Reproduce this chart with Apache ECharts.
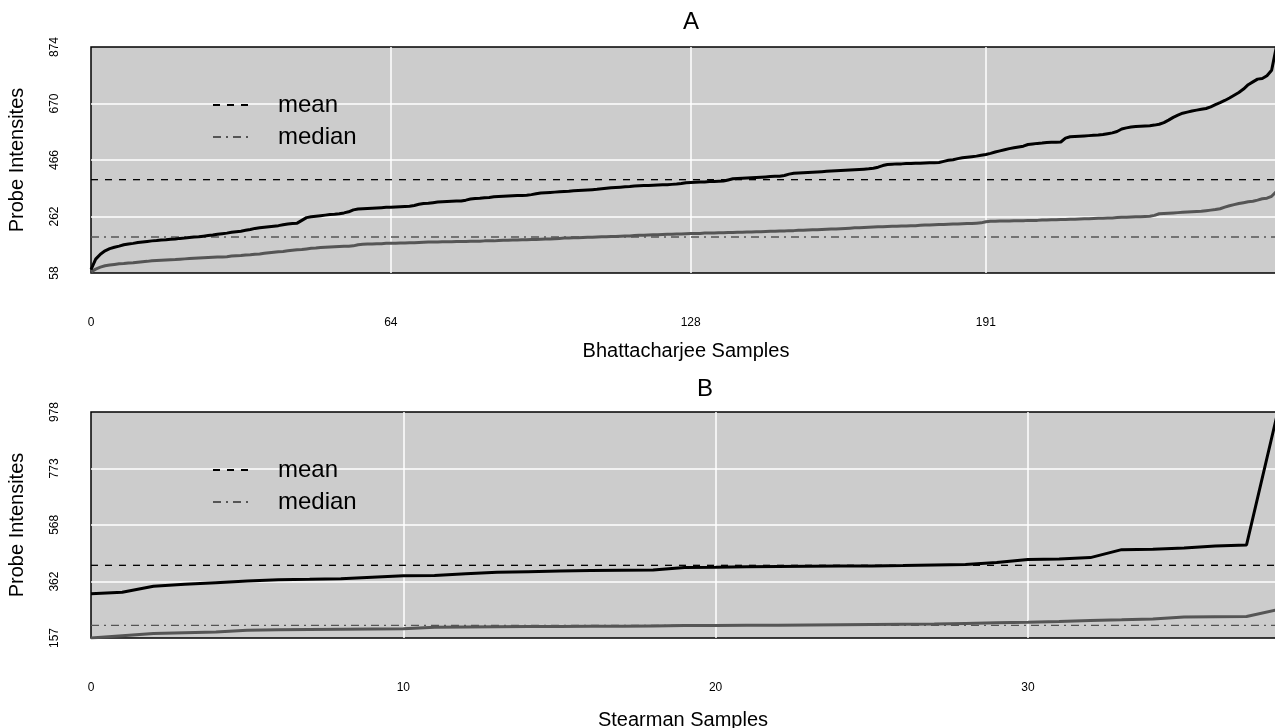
<!DOCTYPE html>
<html>
<head>
<meta charset="utf-8">
<script src="https://cdn.jsdelivr.net/npm/echarts@6/dist/echarts.min.js"></script>
<style>
  html, body { margin: 0; padding: 0; background: #fff; }
  #main { width: 1275px; height: 728px; }
</style>
</head>
<body>
<div id="main"></div>
<script>
// panel A: Bhattacharjee samples, sorted probe intensities
var upperA = [
  70,108,126,138,146,151,155,160,163,165,
  168,170,172,174,175,177,178,180,181,183,
  184,186,188,189,191,193,195,198,200,202,
  205,207,209,212,215,219,221,223,225,227,
  229,232,235,237,238,248,258,261,263,265,
  267,269,270,272,275,279,286,289,290,291,
  292,293,294,295,295,296,297,298,299,302,
  306,309,310,312,314,315,316,317,318,318,
  321,325,327,328,330,331,333,334,335,336,
  337,338,338,339,341,344,347,348,349,350,
  351,352,353,355,356,357,358,359,360,362,
  364,366,367,368,369,370,372,373,374,374,
  375,376,377,377,378,379,381,384,385,386,
  387,387,388,388,389,390,394,398,399,400,
  401,402,403,404,405,406,407,407,410,415,
  418,419,420,421,422,423,424,425,426,427,
  428,429,430,431,432,433,434,436,440,446,
  450,451,452,452,453,453,454,454,455,456,
  456,457,461,465,467,471,474,476,478,480,
  483,486,490,495,499,503,507,510,513,516,
  522,524,526,527,529,530,530,531,545,550,
  551,552,553,554,555,556,558,561,564,569,
  578,582,585,587,588,589,590,592,595,601,
  610,620,628,635,639,643,646,649,652,658,
  666,673,681,690,700,710,722,738,748,758,
  760,770,790,874
];
var lowerA = [
  62,72,79,84,87,89,91,92,94,95,
  97,99,100,102,103,104,105,106,107,108,
  109,110,111,112,113,114,115,116,116,117,
  119,120,121,123,124,126,127,129,131,133,
  135,136,138,140,142,143,145,147,148,150,
  151,152,153,154,155,155,156,160,162,163,
  163,164,164,165,165,165,166,166,167,167,
  168,169,170,170,170,171,171,171,172,172,
  172,173,173,173,174,174,174,175,176,176,
  177,177,178,178,179,179,180,181,181,182,
  183,184,184,185,185,186,187,187,188,189,
  189,190,190,191,192,192,193,194,194,195,
  196,196,197,198,198,199,199,200,201,201,
  201,202,202,202,203,203,204,204,205,205,
  206,206,207,207,208,209,209,210,210,211,
  211,212,212,213,214,214,215,216,217,217,
  218,219,220,221,221,222,223,224,225,225,
  226,227,227,228,228,229,229,230,231,231,
  232,233,233,234,235,235,236,237,237,238,
  239,243,245,245,246,246,246,247,247,247,
  248,248,248,249,249,250,250,251,251,252,
  252,253,254,254,255,256,256,257,257,258,
  259,259,260,261,261,262,263,266,272,273,
  274,275,276,277,278,279,280,281,283,285,
  287,290,296,301,305,309,312,315,317,321,
  326,328,335,352
];
var meanA = 395;
var medianA = 188;
var xTicksA = [0, 64, 128, 191];
var yTicksA = [58, 262, 466, 670, 874];

// panel B: Stearman samples
var upperB = [
  318,323,345,352,358,364,369,370,372,378,
  383,384,390,396,398,400,402,403,404,413,
  414,416,417,418,419,419,420,422,424,431,
  442,444,449,478,479,484,491,495,978
];
var lowerB = [
  157,165,173,176,179,185,187,188,189,190,
  191,196,197,198,199,199,200,200,201,202,
  202,203,203,204,205,206,207,208,210,212,
  214,217,221,223,226,233,234,235,260
];
var meanB = 421;
var medianB = 203;
var xTicksB = [0, 10, 20, 30];
var yTicksB = [157, 362, 568, 773, 978];

var FONT = 'Liberation Sans';
var myChart = echarts.init(document.getElementById('main'));

function pairs(arr) {
    return arr.map(function (v, i) { return [i, v]; });
}

// white grid lines only inside the box, so the black frame stays visible
function inner(ticks, lo, hi) {
    return ticks.filter(function (t) { return t > lo && t < hi; });
}

function xAxisFor(idx, max, ticks, name, gap, shift) {
    return {
        type: 'value', gridIndex: idx, min: 0, max: max,
        name: name, nameLocation: 'middle', nameGap: gap,
        nameTextStyle: { fontFamily: FONT, fontSize: 20, color: '#000', padding: [0, shift, 0, 0] },
        axisLine: { show: false },
        axisTick: { show: false, customValues: inner(ticks, 0, max) },
        axisLabel: { customValues: ticks, margin: 44, fontFamily: FONT, fontSize: 12, color: '#000' },
        splitLine: { show: true, lineStyle: { color: '#fff', width: 1.5 } }
    };
}

function yAxisFor(idx, ticks) {
    var lo = ticks[0], hi = ticks[ticks.length - 1];
    return {
        type: 'value', gridIndex: idx, min: lo, max: hi,
        name: 'Probe Intensites', nameLocation: 'middle', nameGap: 64,
        nameTextStyle: { fontFamily: FONT, fontSize: 20, color: '#000' },
        axisLine: { show: false },
        axisTick: { show: false, customValues: inner(ticks, lo, hi) },
        axisLabel: { customValues: ticks, rotate: 90, margin: 30, fontFamily: FONT, fontSize: 12, color: '#000' },
        splitLine: { show: true, lineStyle: { color: '#fff', width: 1.5 } }
    };
}

function seriesFor(idx, upper, lower, mean, median, xmax) {
    return [{
        type: 'line', xAxisIndex: idx, yAxisIndex: idx, name: 'upper',
        data: pairs(upper), showSymbol: false, symbol: 'none',
        lineStyle: { color: '#000', width: 3 }, z: 5
    }, {
        type: 'line', xAxisIndex: idx, yAxisIndex: idx, name: 'lower',
        data: pairs(lower), showSymbol: false, symbol: 'none',
        lineStyle: { color: '#555', width: 3 }, z: 4
    }, {
        type: 'line', xAxisIndex: idx, yAxisIndex: idx, name: 'mean',
        data: [[0, mean], [xmax, mean]], symbol: 'none',
        itemStyle: { color: '#000' },
        lineStyle: { color: '#000', width: 1.3, type: [7, 7] }, z: 3
    }, {
        type: 'line', xAxisIndex: idx, yAxisIndex: idx, name: 'median',
        data: [[0, median], [xmax, median]], symbol: 'none',
        itemStyle: { color: '#555' },
        lineStyle: { color: '#555', width: 1.3, type: [8, 5, 2, 5] }, z: 3
    }];
}

function legendAt(top) {
    return {
        orient: 'vertical', left: 207, top: top,
        data: ['mean', 'median'],
        itemWidth: 39, itemHeight: 1, itemGap: 8,
        itemStyle: { color: 'rgba(0,0,0,0)', borderWidth: 0 },
        textStyle: { fontFamily: FONT, fontSize: 24, lineHeight: 24, color: '#000', padding: [0, 0, 0, 21] }
    };
}

var option = {
    animation: false,
    backgroundColor: '#fff',
    title: [{
        text: 'A', left: 686, top: 5, textAlign: 'center',
        textStyle: { fontFamily: FONT, fontSize: 24, fontWeight: 'normal', color: '#000' }
    }, {
        text: 'B', left: 700, top: 372, textAlign: 'center',
        textStyle: { fontFamily: FONT, fontSize: 24, fontWeight: 'normal', color: '#000' }
    }],
    legend: [legendAt(88), legendAt(453)],
    grid: [{
        left: 91, top: 47, height: 226, right: -6,
        show: true, backgroundColor: '#cccccc', borderColor: '#000', borderWidth: 1.5,
        outerBoundsMode: 'none'
    }, {
        left: 91, top: 412, height: 226, right: -34,
        show: true, backgroundColor: '#cccccc', borderColor: '#000', borderWidth: 1.5,
        outerBoundsMode: 'none'
    }],
    xAxis: [
        xAxisFor(0, 254, xTicksA, 'Bhattacharjee Samples', 68, 0),
        xAxisFor(1, 39, xTicksB, 'Stearman Samples', 72, 34)
    ],
    yAxis: [yAxisFor(0, yTicksA), yAxisFor(1, yTicksB)],
    series: seriesFor(0, upperA, lowerA, meanA, medianA, 254)
        .concat(seriesFor(1, upperB, lowerB, meanB, medianB, 39))
};

myChart.setOption(option);
</script>
</body>
</html>
